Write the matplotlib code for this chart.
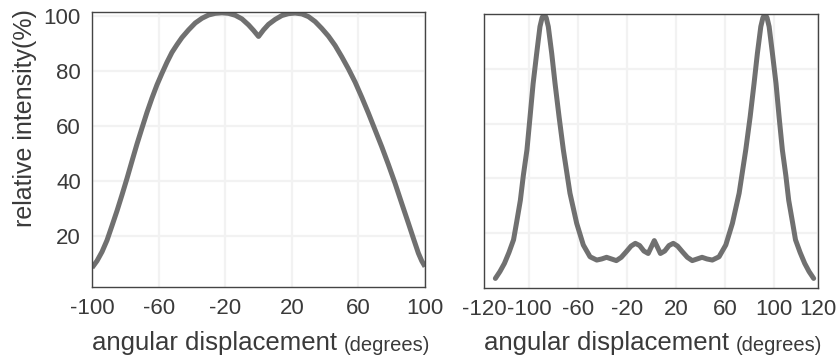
import numpy as np
import matplotlib
matplotlib.use("Agg")
import matplotlib.pyplot as plt

# ── DATA ──────────────────────────────────────────

LEFT_ANGLE = [-100, -97, -94, -91, -88, -85, -82, -79, -76, -73, -70, -67, -64,
              -61, -58, -55, -52, -49, -46, -42, -38, -34, -30, -26, -22, -18,
              -14, -10, -6, -3, 0, 3, 6, 10, 14, 18, 22, 26, 30, 34, 38, 42,
              46, 50, 54, 58, 62, 66, 70, 74, 78, 82, 86, 90, 93, 96, 98, 100]
LEFT_INTENSITY = [8.5, 11, 14.3, 18.5, 23.8, 29.2, 35, 41, 47.3, 53.5, 59.3,
                  65, 70.2, 75, 79.2, 83.2, 86.8, 89.6, 92.2, 95, 97.5, 99.2,
                  100.4, 101, 101.2, 101, 100.3, 99, 96.8, 94.8, 92.6, 95, 97,
                  98.8, 100.2, 100.9, 101.1, 100.8, 99.8, 98, 95.5, 92.7, 89.3,
                  85.2, 80.8, 76, 70.5, 64.7, 58.6, 52.5, 46, 39.2, 31.9, 24.7,
                  19.2, 13.8, 11, 8.9]

RIGHT_ANGLE = [-115, -113, -111, -109, -107, -105.6, -104, -102.7, -101.1,
               -99.5, -97, -94.1, -91.4, -89.7, -88, -86.3, -84.6, -81.8,
               -79.1, -75.8, -72.3, -66.9, -61.4, -56, -50.5, -45, -41, -37,
               -33, -29, -25, -21, -17, -13.5, -10, -6.5, -3, 2, 7, 10.5, 14,
               17.5, 21, 25, 29, 33, 37, 41, 45, 49.4, 54.9, 60.4, 65.8, 71.3,
               76.7, 80.3, 83.5, 86.2, 89, 90.7, 92.4, 94.1, 95.8, 98.5, 100.8,
               102.2, 103.7, 105.3, 106.6, 108.3, 109.7, 111.8, 113.9, 115.9,
               118]
RIGHT_INTENSITY = [3.5, 6, 9, 13, 17.6, 24.2, 32, 41, 50.4, 62.5, 74.6, 85.6,
                   95.4, 98.6, 100, 98.6, 95.4, 85.6, 74.7, 62.5, 50.4, 34.6,
                   23.6, 15.7, 11.4, 10.2, 10.6, 11.2, 10.6, 10.0, 11.2, 13.2,
                   15.3, 16.3, 15.5, 13.5, 12.6, 17.3, 12.6, 13.5, 15.5, 16.3,
                   15.3, 13.2, 11.2, 10.0, 10.6, 11.2, 10.6, 10.2, 11.4, 15.7,
                   23.6, 34.6, 50.4, 62.5, 74.7, 85.6, 95.4, 98.6, 100, 98.6,
                   95.4, 85.6, 74.6, 62.5, 50.4, 41, 32, 24.2, 17.6, 13, 9, 6,
                   3.5]

LEFT_XTICKS = [-100, -60, -20, 20, 60, 100]
RIGHT_XTICKS = [-120, -100, -60, -20, 20, 60, 100, 120]
YTICKS = [20, 40, 60, 80, 100]

# ── STYLE ─────────────────────────────────────────

LINE_COLOR = "#707070"
TEXT_COLOR = "#3a3a3a"
GRID_COLOR = "#f2f2f2"
FONT = ["Liberation Sans", "DejaVu Sans"]

# the right panel's labels are squeezed at the ends: -120..-100 and 100..120
# take more room per degree than the middle of the axis
RIGHT_ANCHORS = [-120, -100, 100, 120]
RIGHT_FRACTION = [0.0, 0.136, 0.869, 1.0]

plt.rcParams["axes.unicode_minus"] = False


def fwd(x):
    return np.interp(x, RIGHT_ANCHORS, RIGHT_FRACTION)


def inv(y):
    return np.interp(y, RIGHT_FRACTION, RIGHT_ANCHORS)


# ── HELPERS ───────────────────────────────────────

def style_axes(ax):
    for s in ax.spines.values():
        s.set_color("#444444")
        s.set_linewidth(1.0)
    ax.tick_params(length=0, pad=8, colors=TEXT_COLOR)
    for lab in ax.get_xticklabels() + ax.get_yticklabels():
        lab.set_family(FONT)
        lab.set_fontsize(16)
    ax.grid(True, color=GRID_COLOR, lw=1.6)
    ax.set_axisbelow(True)


def add_xlabel(ax, y):
    t = ax.text(0.0, y, "angular displacement", transform=ax.transAxes,
                ha="left", va="baseline", fontsize=18.5, color=TEXT_COLOR,
                family=FONT)
    ax.annotate("(degrees)", xy=(1, 0), xycoords=t, xytext=(5, 0),
                textcoords="offset points", ha="left", va="bottom",
                fontsize=14.5, color=TEXT_COLOR, family=FONT)


# ── PLOT ──────────────────────────────────────────

def main():
    fig = plt.figure(figsize=(8.39, 3.63), dpi=100)

    ax1 = fig.add_axes([0.1097, 0.2094, 0.3969, 0.7576])
    ax1.plot(LEFT_ANGLE, LEFT_INTENSITY, color=LINE_COLOR, lw=3.6,
             solid_joinstyle="round", solid_capstyle="butt")
    ax1.set_xlim(-100, 100)
    ax1.set_ylim(1.5, 101.5)
    ax1.set_xticks(LEFT_XTICKS)
    ax1.set_yticks(YTICKS)
    style_axes(ax1)
    add_xlabel(ax1, -0.229)

    ax2 = fig.add_axes([0.5769, 0.2066, 0.3981, 0.7548])
    ax2.set_xscale("function", functions=(fwd, inv))
    ax2.plot(RIGHT_ANGLE, RIGHT_INTENSITY, color=LINE_COLOR, lw=3.6,
             solid_joinstyle="round", solid_capstyle="round")
    ax2.set_xlim(-120, 120)
    ax2.set_ylim(0, 100)
    ax2.set_xticks(RIGHT_XTICKS)
    ax2.set_xticks([], minor=True)
    ax2.set_yticks(YTICKS[:-1])
    ax2.set_yticklabels([])
    style_axes(ax2)
    add_xlabel(ax2, -0.226)

    fig.text(0.0298, 0.6736, "relative intensity(%)", rotation=90,
             ha="center", va="center", fontsize=18, color=TEXT_COLOR,
             family=FONT)

    fig.savefig("out.png", dpi=100)


if __name__ == "__main__":
    main()
